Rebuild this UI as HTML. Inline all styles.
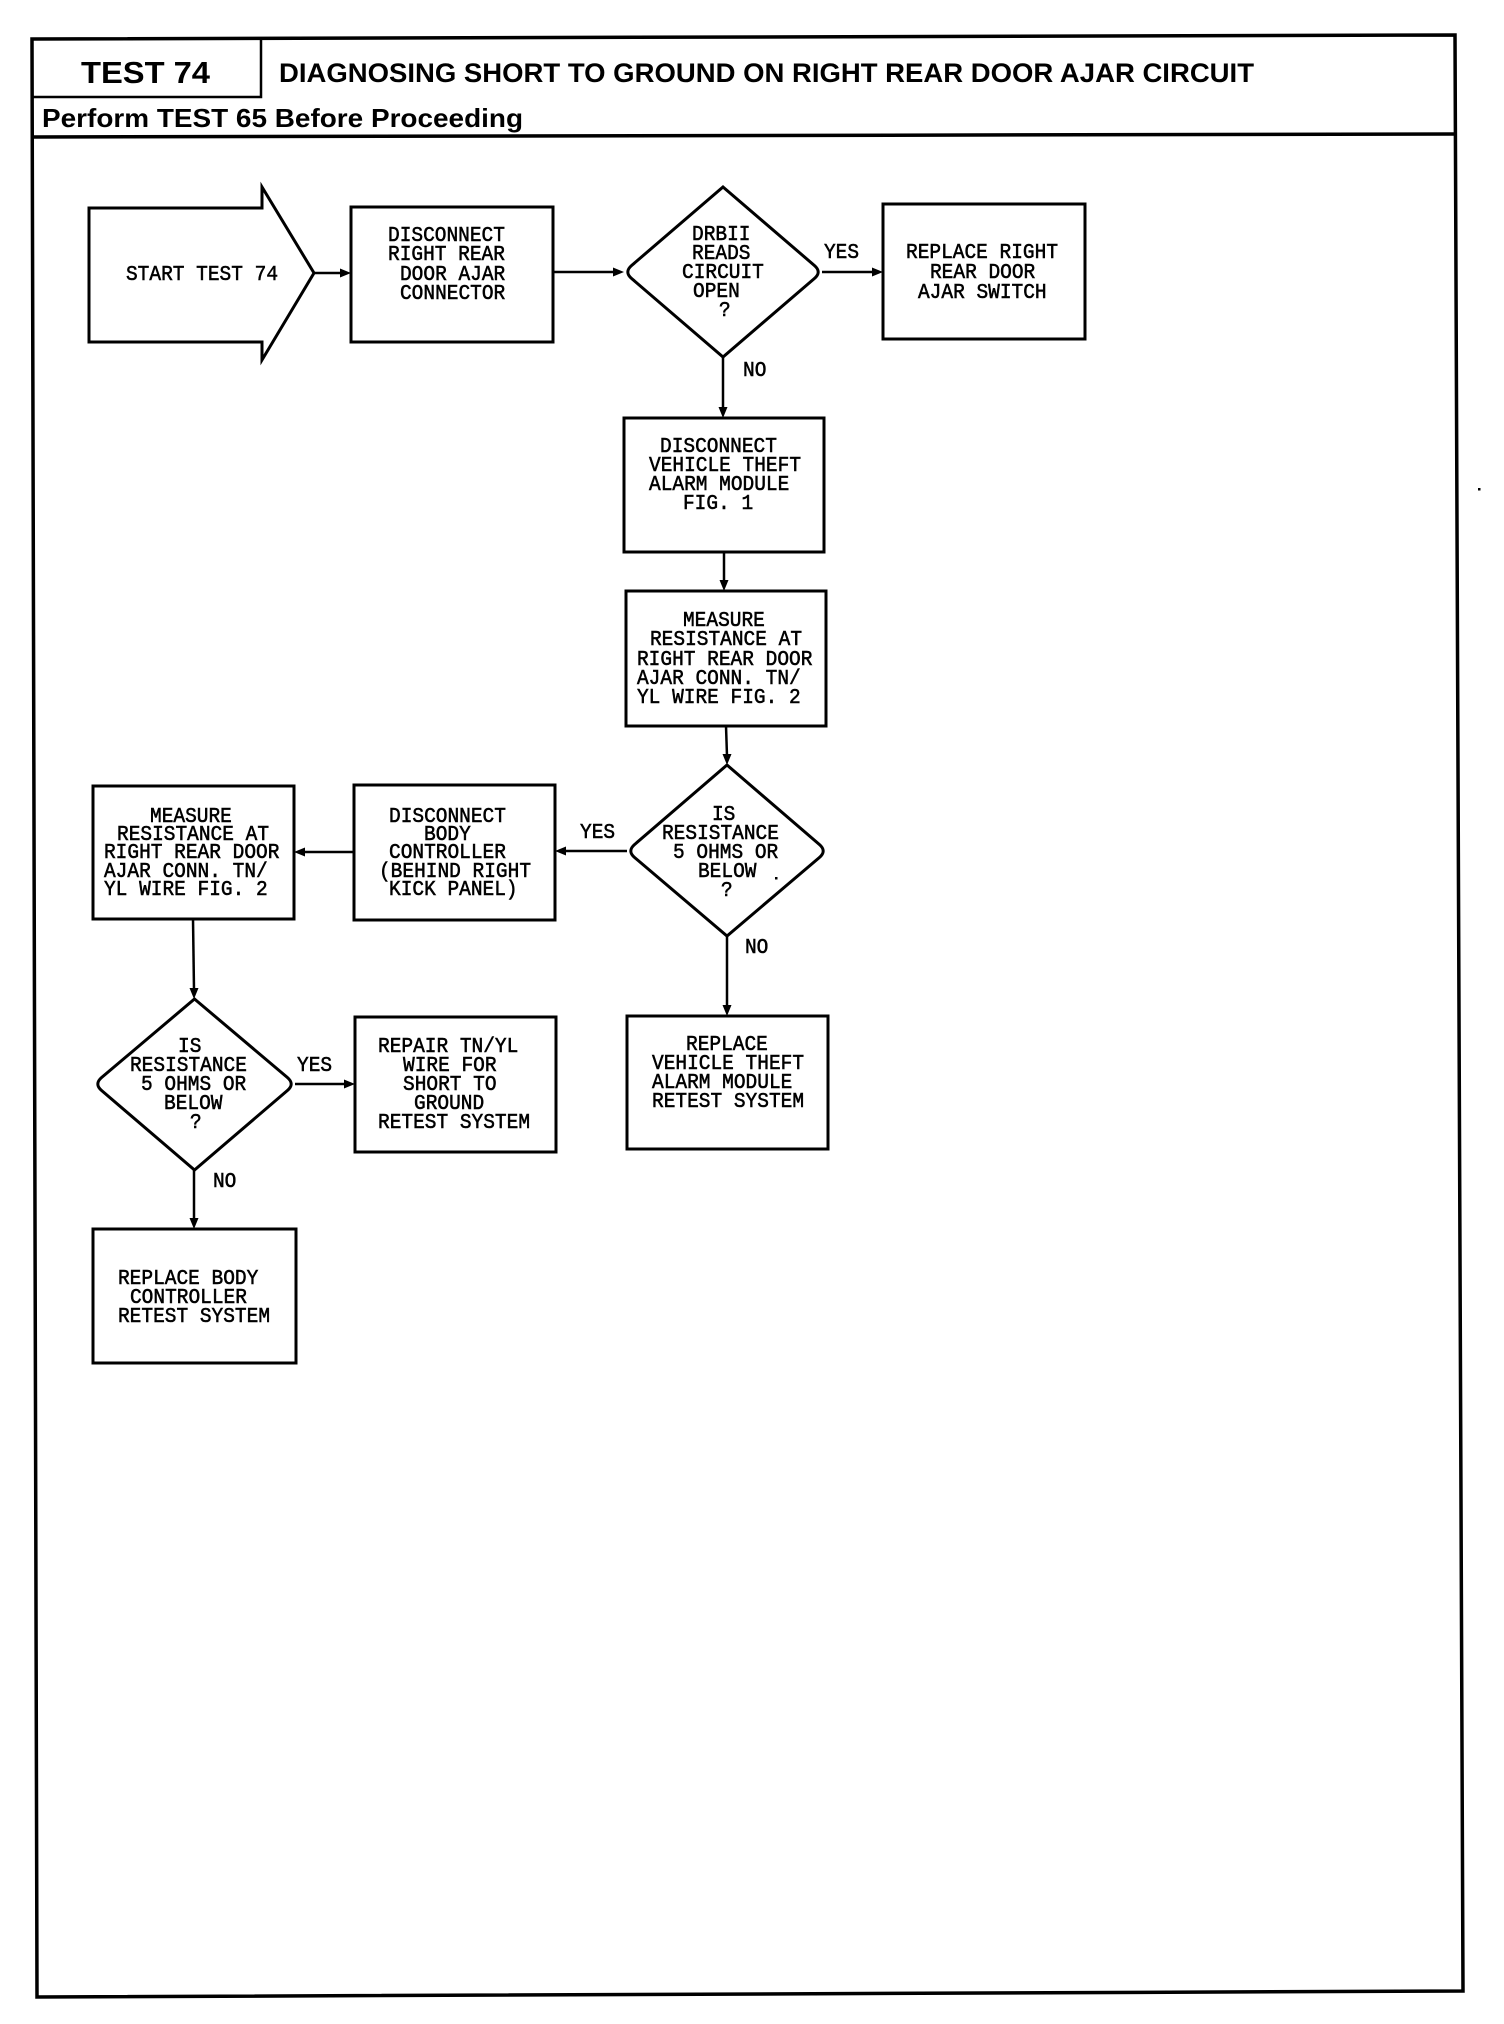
<!DOCTYPE html>
<html>
<head>
<meta charset="utf-8">
<style>
html,body{margin:0;padding:0;background:#fff;}
svg{display:block;}
.m{font-family:"Liberation Mono",monospace;font-size:19.5px;fill:#000;stroke:#000;stroke-width:0.5px;}
.h{font-family:"Liberation Sans",Arial,sans-serif;font-weight:bold;fill:#000;}
</style>
</head>
<body>
<svg width="1504" height="2024" viewBox="0 0 1504 2024" xmlns="http://www.w3.org/2000/svg">
<rect x="0" y="0" width="1504" height="2024" fill="#fff"/>

<!-- outer frame -->
<polygon points="32,39 1455,35 1463,1991 37,1997" fill="none" stroke="#000" stroke-width="3.5"/>
<line x1="32" y1="137" x2="1457" y2="134" stroke="#000" stroke-width="3.5"/>
<polyline points="32,97 261,97 261,38" fill="none" stroke="#000" stroke-width="2.5"/>

<!-- header text -->
<text class="h" x="81" y="83" font-size="31" textLength="129" lengthAdjust="spacingAndGlyphs">TEST 74</text>
<text class="h" x="279" y="82" font-size="27" textLength="975" lengthAdjust="spacingAndGlyphs">DIAGNOSING SHORT TO GROUND ON RIGHT REAR DOOR AJAR CIRCUIT</text>
<text class="h" x="42" y="127" font-size="26" textLength="481" lengthAdjust="spacingAndGlyphs">Perform TEST 65 Before Proceeding</text>

<g fill="none" stroke="#000" stroke-width="3">
<!-- start arrow -->
<polygon points="89,208 262,208 262,187 314,273 262,360 262,342 89,342"/>
<!-- boxes -->
<rect x="351" y="207" width="202" height="135"/>
<rect x="883" y="204" width="202" height="135"/>
<rect x="624" y="418" width="200" height="134"/>
<rect x="626" y="591" width="200" height="135"/>
<rect x="354" y="785" width="201" height="135"/>
<rect x="93" y="786" width="201" height="133"/>
<rect x="627" y="1016" width="201" height="133"/>
<rect x="355" y="1017" width="201" height="135"/>
<rect x="93" y="1229" width="203" height="134"/>
<!-- diamonds -->
<path d="M723,187 L814.4,265.5 Q822,272 814.4,278.5 L723,357 L631.6,278.5 Q624,272 631.6,265.5 Z"/>
<path d="M727,765 L819.4,844.5 Q827,851 819.4,857.5 L727,936 L634.6,857.5 Q627,851 634.6,844.5 Z"/>
<path d="M194.5,999 L287.4,1077.5 Q295,1084 287.4,1090.5 L194.5,1170 L101.6,1090.5 Q94,1084 101.6,1077.5 Z"/>
</g>

<!-- connectors -->
<g stroke="#000" stroke-width="2.5" fill="none">
<line x1="314" y1="273" x2="342" y2="273"/>
<line x1="553" y1="272" x2="615" y2="272"/>
<line x1="822" y1="272" x2="874" y2="272"/>
<line x1="723" y1="357" x2="723" y2="409"/>
<line x1="724" y1="552" x2="724" y2="582"/>
<line x1="726" y1="726" x2="727" y2="756"/>
<line x1="627" y1="851" x2="564" y2="851"/>
<line x1="354" y1="852" x2="303" y2="852"/>
<line x1="193" y1="919" x2="194" y2="990"/>
<line x1="295" y1="1084" x2="346" y2="1084"/>
<line x1="727" y1="936" x2="727" y2="1007"/>
<line x1="194" y1="1170" x2="194" y2="1220"/>
</g>
<g fill="#000">
<polygon points="351,273 340,268.5 340,277.5"/>
<polygon points="624,272 613,267.5 613,276.5"/>
<polygon points="883,272 872,267.5 872,276.5"/>
<polygon points="723,418 718.5,407 727.5,407"/>
<polygon points="724,591 719.5,580 728.5,580"/>
<polygon points="727,765 722.5,754 731.5,754"/>
<polygon points="555,851 566,846.5 566,855.5"/>
<polygon points="294,852 305,847.5 305,856.5"/>
<polygon points="194,999 189.5,988 198.5,988"/>
<polygon points="355,1084 344,1079.5 344,1088.5"/>
<polygon points="727,1016 722.5,1005 731.5,1005"/>
<polygon points="194,1229 189.5,1218 198.5,1218"/>
<rect x="775" y="877" width="2.5" height="2.5"/>
<rect x="1478" y="488" width="2.5" height="2.5"/>
</g>

<!-- flow text -->
<g class="m">
<text x="126" y="0" transform="translate(0,280) scale(1,1.1)">START TEST 74</text>

<text x="388" y="0" transform="translate(0,241) scale(1,1.1)">DISCONNECT</text>
<text x="388" y="0" transform="translate(0,260) scale(1,1.1)">RIGHT REAR</text>
<text x="400" y="0" transform="translate(0,280) scale(1,1.1)">DOOR AJAR</text>
<text x="400" y="0" transform="translate(0,299) scale(1,1.1)">CONNECTOR</text>

<text x="692" y="0" transform="translate(0,240) scale(1,1.1)">DRBII</text>
<text x="692" y="0" transform="translate(0,259) scale(1,1.1)">READS</text>
<text x="682" y="0" transform="translate(0,278) scale(1,1.1)">CIRCUIT</text>
<text x="693" y="0" transform="translate(0,297) scale(1,1.1)">OPEN</text>
<text x="719" y="0" transform="translate(0,316) scale(1,1.1)">?</text>

<text x="824" y="0" transform="translate(0,258) scale(1,1.1)">YES</text>
<text x="743" y="0" transform="translate(0,376) scale(1,1.1)">NO</text>

<text x="906" y="0" transform="translate(0,258) scale(1,1.1)">REPLACE RIGHT</text>
<text x="930" y="0" transform="translate(0,278) scale(1,1.1)">REAR DOOR</text>
<text x="918" y="0" transform="translate(0,298) scale(1,1.1)">AJAR SWITCH</text>

<text x="660" y="0" transform="translate(0,452) scale(1,1.1)">DISCONNECT</text>
<text x="649" y="0" transform="translate(0,471) scale(1,1.1)">VEHICLE THEFT</text>
<text x="649" y="0" transform="translate(0,490) scale(1,1.1)">ALARM MODULE</text>
<text x="683" y="0" transform="translate(0,509) scale(1,1.1)">FIG. 1</text>

<text x="683" y="0" transform="translate(0,626) scale(1,1.1)">MEASURE</text>
<text x="650" y="0" transform="translate(0,645) scale(1,1.1)">RESISTANCE AT</text>
<text x="637" y="0" transform="translate(0,665) scale(1,1.1)">RIGHT REAR DOOR</text>
<text x="637" y="0" transform="translate(0,684) scale(1,1.1)">AJAR CONN. TN/</text>
<text x="637" y="0" transform="translate(0,703) scale(1,1.1)">YL WIRE FIG. 2</text>

<text x="712" y="0" transform="translate(0,820) scale(1,1.1)">IS</text>
<text x="662" y="0" transform="translate(0,839) scale(1,1.1)">RESISTANCE</text>
<text x="673" y="0" transform="translate(0,858) scale(1,1.1)">5 OHMS OR</text>
<text x="698" y="0" transform="translate(0,877) scale(1,1.1)">BELOW</text>
<text x="721" y="0" transform="translate(0,896) scale(1,1.1)">?</text>

<text x="580" y="0" transform="translate(0,838) scale(1,1.1)">YES</text>
<text x="745" y="0" transform="translate(0,953) scale(1,1.1)">NO</text>

<text x="389" y="0" transform="translate(0,822) scale(1,1.1)">DISCONNECT</text>
<text x="424" y="0" transform="translate(0,840) scale(1,1.1)">BODY</text>
<text x="389" y="0" transform="translate(0,858) scale(1,1.1)">CONTROLLER</text>
<text x="379" y="0" transform="translate(0,877) scale(1,1.1)">(BEHIND RIGHT</text>
<text x="389" y="0" transform="translate(0,895) scale(1,1.1)">KICK PANEL)</text>

<text x="150" y="0" transform="translate(0,822) scale(1,1.1)">MEASURE</text>
<text x="117" y="0" transform="translate(0,840) scale(1,1.1)">RESISTANCE AT</text>
<text x="104" y="0" transform="translate(0,858) scale(1,1.1)">RIGHT REAR DOOR</text>
<text x="104" y="0" transform="translate(0,877) scale(1,1.1)">AJAR CONN. TN/</text>
<text x="104" y="0" transform="translate(0,895) scale(1,1.1)">YL WIRE FIG. 2</text>

<text x="178" y="0" transform="translate(0,1052) scale(1,1.1)">IS</text>
<text x="130" y="0" transform="translate(0,1071) scale(1,1.1)">RESISTANCE</text>
<text x="141" y="0" transform="translate(0,1090) scale(1,1.1)">5 OHMS OR</text>
<text x="164" y="0" transform="translate(0,1109) scale(1,1.1)">BELOW</text>
<text x="190" y="0" transform="translate(0,1128) scale(1,1.1)">?</text>

<text x="297" y="0" transform="translate(0,1071) scale(1,1.1)">YES</text>
<text x="213" y="0" transform="translate(0,1187) scale(1,1.1)">NO</text>

<text x="378" y="0" transform="translate(0,1052) scale(1,1.1)">REPAIR TN/YL</text>
<text x="403" y="0" transform="translate(0,1071) scale(1,1.1)">WIRE FOR</text>
<text x="403" y="0" transform="translate(0,1090) scale(1,1.1)">SHORT TO</text>
<text x="414" y="0" transform="translate(0,1109) scale(1,1.1)">GROUND</text>
<text x="378" y="0" transform="translate(0,1128) scale(1,1.1)">RETEST SYSTEM</text>

<text x="686" y="0" transform="translate(0,1050) scale(1,1.1)">REPLACE</text>
<text x="652" y="0" transform="translate(0,1069) scale(1,1.1)">VEHICLE THEFT</text>
<text x="652" y="0" transform="translate(0,1088) scale(1,1.1)">ALARM MODULE</text>
<text x="652" y="0" transform="translate(0,1107) scale(1,1.1)">RETEST SYSTEM</text>

<text x="118" y="0" transform="translate(0,1284) scale(1,1.1)">REPLACE BODY</text>
<text x="130" y="0" transform="translate(0,1303) scale(1,1.1)">CONTROLLER</text>
<text x="118" y="0" transform="translate(0,1322) scale(1,1.1)">RETEST SYSTEM</text>
</g>
</svg>
</body>
</html>
